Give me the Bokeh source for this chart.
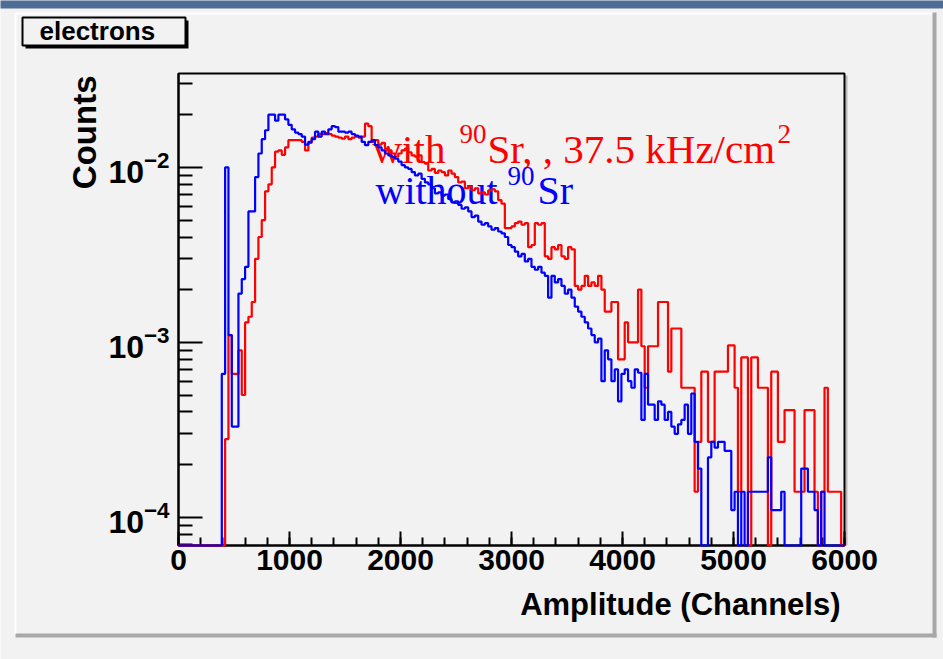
import math
import numpy as np
from bokeh.plotting import figure
from bokeh.models import Range1d, FixedTicker, SingleIntervalTicker, Label, BoxAnnotation
from bokeh.embed import file_html
from bokeh.resources import INLINE

# ---------------- data ----------------
x_min, x_max = 0, 6000
bin_width = 30           # channels per bin
first_bin = 13           # index of first listed bin (bin edge 390)
n_bins = 200
y_min, y_max = 6.9e-5, 3.44e-2
x_ticks = [0, 1000, 2000, 3000, 4000, 5000, 6000]
y_ticks = [1e-4, 1e-3, 1e-2]

# "without 90Sr" (blue), bins 13..199, normalised counts
blue = [
    6.6e-4, 1.0e-2, 1.1e-3, 3.3e-4, 3.3e-4, 1.9e-3, 2.3e-3, 2.7e-3, 5.6e-3, 5.6e-3,
    8.8e-3, 1.20e-2, 1.45e-2, 1.63e-2, 2.00e-2, 2.00e-2, 1.85e-2, 2.00e-2, 2.00e-2, 1.88e-2,
    1.75e-2, 1.65e-2, 1.58e-2, 1.55e-2, 1.50e-2, 1.35e-2, 1.40e-2, 1.45e-2, 1.60e-2, 1.50e-2,
    1.60e-2, 1.55e-2, 1.65e-2, 1.72e-2, 1.70e-2, 1.60e-2, 1.60e-2, 1.58e-2, 1.60e-2, 1.55e-2,
    1.52e-2, 1.50e-2, 1.40e-2, 1.34e-2, 1.40e-2, 1.43e-2, 1.34e-2, 1.30e-2, 1.25e-2, 1.20e-2,
    1.17e-2, 1.15e-2, 1.12e-2, 1.08e-2, 1.03e-2, 1.00e-2, 9.8e-3, 9.4e-3, 9.0e-3, 9.2e-3,
    8.6e-3, 8.2e-3, 8.0e-3, 7.6e-3, 7.1e-3, 7.2e-3, 6.9e-3, 7.0e-3, 6.6e-3, 6.3e-3,
    6.4e-3, 6.1e-3, 5.8e-3, 5.9e-3, 5.6e-3, 5.2e-3, 5.3e-3, 4.9e-3, 4.7e-3, 4.8e-3,
    4.6e-3, 4.4e-3, 4.5e-3, 4.3e-3, 4.2e-3, 4.0e-3, 3.6e-3, 3.5e-3, 3.3e-3, 3.1e-3,
    3.2e-3, 2.9e-3, 3.0e-3, 2.7e-3, 2.6e-3, 2.7e-3, 2.5e-3, 2.4e-3, 1.8e-3, 2.4e-3,
    2.2e-3, 2.3e-3, 2.1e-3, 1.9e-3, 2.0e-3, 1.8e-3, 1.6e-3, 1.5e-3, 1.4e-3, 1.3e-3,
    1.2e-3, 1.1e-3, 1.0e-3, 1.05e-3, 6.0e-4, 9.0e-4, 8.0e-4, 6.0e-4, 7.0e-4, 4.6e-4,
    6.6e-4, 7.0e-4, 6.0e-4, 5.5e-4, 7.0e-4, 6.7e-4, 3.6e-4, 6.6e-4, 4.4e-4, 4.4e-4,
    3.6e-4, 4.6e-4, 4.4e-4, 3.6e-4, 4.0e-4, 3.3e-4, 3.0e-4, 3.4e-4, 3.6e-4, 4.4e-4,
    3.0e-4, 5.1e-4, 2.7e-4, 1.9e-4, 0, 0, 2.2e-4, 2.7e-4, 2.5e-4, 2.7e-4,
    2.7e-4, 2.4e-4, 2.4e-4, 1.1e-4, 1.4e-4, 0, 1.4e-4, 0, 1.4e-4, 1.4e-4,
    1.4e-4, 1.4e-4, 1.4e-4, 1.4e-4, 2.2e-4, 1.1e-4, 1.1e-4, 1.1e-4, 1.4e-4, 0,
    0, 0, 0, 0, 1.9e-4, 1.9e-4, 1.4e-4, 1.4e-4, 1.1e-4, 0,
    1.4e-4, 0, 0, 0, 0, 0, 0,
]

# "with 90Sr, 37.5 kHz/cm2" (red), bins 13..199
red = [
    0, 2.8e-4, 1.1e-3, 6.6e-4, 6.6e-4, 9.0e-4, 5.0e-4, 1.3e-3, 1.4e-3, 1.7e-3,
    3.0e-3, 4.0e-3, 5.0e-3, 7.3e-3, 8.0e-3, 1.00e-2, 1.23e-2, 1.25e-2, 1.18e-2, 1.30e-2,
    1.43e-2, 1.43e-2, 1.43e-2, 1.43e-2, 1.40e-2, 1.25e-2, 1.38e-2, 1.48e-2, 1.50e-2, 1.55e-2,
    1.55e-2, 1.57e-2, 1.55e-2, 1.52e-2, 1.50e-2, 1.48e-2, 1.46e-2, 1.50e-2, 1.45e-2, 1.48e-2,
    1.50e-2, 1.48e-2, 1.50e-2, 1.78e-2, 1.72e-2, 1.40e-2, 1.43e-2, 1.35e-2, 1.38e-2, 1.28e-2,
    1.25e-2, 1.20e-2, 1.15e-2, 1.20e-2, 1.25e-2, 1.28e-2, 1.22e-2, 1.17e-2, 1.15e-2, 1.17e-2,
    1.07e-2, 1.05e-2, 9.6e-3, 9.8e-3, 9.3e-3, 9.6e-3, 9.4e-3, 9.0e-3, 9.6e-3, 9.2e-3,
    8.8e-3, 8.2e-3, 8.3e-3, 7.6e-3, 7.8e-3, 7.4e-3, 7.6e-3, 7.1e-3, 7.2e-3, 7.0e-3,
    7.4e-3, 7.5e-3, 7.3e-3, 6.5e-3, 6.2e-3, 4.5e-3, 4.5e-3, 4.6e-3, 4.8e-3, 4.9e-3,
    4.7e-3, 4.8e-3, 3.5e-3, 3.6e-3, 4.8e-3, 4.7e-3, 4.8e-3, 3.1e-3, 3.0e-3, 3.5e-3,
    3.4e-3, 3.6e-3, 3.1e-3, 3.0e-3, 3.5e-3, 3.4e-3, 2.1e-3, 2.0e-3, 2.1e-3, 2.4e-3,
    2.1e-3, 2.2e-3, 2.1e-3, 2.4e-3, 2.0e-3, 1.5e-3, 1.5e-3, 1.7e-3, 1.7e-3, 8.0e-4,
    8.0e-4, 1.3e-3, 1.0e-3, 1.0e-3, 1.0e-3, 2.0e-3, 9.5e-4, 5.5e-4, 9.5e-4, 9.5e-4,
    9.5e-4, 1.7e-3, 1.7e-3, 1.7e-3, 6.8e-4, 1.2e-3, 1.2e-3, 1.2e-3, 5.5e-4, 5.5e-4,
    5.5e-4, 5.5e-4, 1.4e-4, 2.7e-4, 6.8e-4, 6.8e-4, 2.7e-4, 2.7e-4, 6.8e-4, 6.8e-4,
    6.8e-4, 6.8e-4, 9.6e-4, 9.6e-4, 5.5e-4, 1.4e-4, 8.2e-4, 8.2e-4, 0, 8.2e-4,
    8.2e-4, 5.5e-4, 5.5e-4, 5.5e-4, 0, 6.8e-4, 6.8e-4, 2.7e-4, 2.7e-4, 4.1e-4,
    4.1e-4, 4.1e-4, 1.4e-4, 1.4e-4, 1.4e-4, 4.1e-4, 4.1e-4, 4.1e-4, 1.4e-4, 0,
    1.4e-4, 5.5e-4, 1.4e-4, 1.4e-4, 1.4e-4, 1.4e-4, 0,
]

title_text = "electrons"
x_title = "Amplitude (Channels)"
y_title = "Counts"

# ---------------- layout geometry (pixels on the 943x659 canvas) ----------------
W, H = 943, 659
FL, FR, FT, FB = 178, 844, 73, 545      # edges of the data frame
BG = "#f2f2f2"


def full(vals):
    arr = [0.0] * first_bin + list(vals)
    arr = (arr + [0.0] * n_bins)[:n_bins]
    arr = [v if v > 0 else y_min for v in arr]   # empty bins drawn on the bottom edge
    return np.array(arr + [arr[-1]])


edges = x_min + bin_width * np.arange(n_bins + 1)


def sx(px):
    return x_min + (px - FL) * (x_max - x_min) / (FR - FL)


def sy(py):
    lt, lb = math.log10(y_max), math.log10(y_min)
    return 10 ** (lt - (py - FT) * (lt - lb) / (FB - FT))


# the plotting area covers the whole canvas; the axes sit at fixed data locations
p = figure(width=W, height=H, output_backend="svg", toolbar_location=None, title=None,
           x_range=Range1d(sx(0), sx(W)), y_range=Range1d(sy(H), sy(0)),
           y_axis_type="log", min_border=0,
           min_border_left=0, min_border_right=0, min_border_top=0, min_border_bottom=0)
p.background_fill_color = BG
p.border_fill_color = BG
p.outline_line_color = None
p.xgrid.visible = False
p.ygrid.visible = False

# ---------------- slide / pad decorations ----------------
p.add_layout(BoxAnnotation(left=sx(-20), right=sx(W + 20), top=sy(-20), bottom=sy(8),
                           fill_color="#4d6d96", fill_alpha=1, line_alpha=0, level="underlay"))
p.segment(x0=[sx(15), sx(15)], y0=[sy(13), sy(13)], x1=[sx(933), sx(15)], y1=[sy(13), sy(634)],
          line_color="white", line_width=2, level="underlay")
p.segment(x0=[sx(934), sx(15)], y0=[sy(12), sy(635)], x1=[sx(934), sx(936)], y1=[sy(637), sy(635)],
          line_color="#a8a8a8", line_width=4, level="underlay")

# title box with shadow
p.add_layout(BoxAnnotation(left=sx(25), right=sx(188), top=sy(20), bottom=sy(48),
                           fill_color="black", fill_alpha=1, line_alpha=0))
p.add_layout(BoxAnnotation(left=sx(22), right=sx(185), top=sy(17), bottom=sy(45),
                           fill_color=BG, fill_alpha=1, line_color="black", line_alpha=1,
                           line_width=2))
p.add_layout(Label(x=sx(39), y=sy(30), text=title_text, text_font="Liberation Sans",
                   text_font_style="bold", text_font_size="26px", text_color="black",
                   text_baseline="middle"))

# frame of the histogram pad
p.add_layout(BoxAnnotation(left=x_min, right=x_max, bottom=y_min, top=y_max,
                           fill_color=BG, fill_alpha=1, line_color="black", line_alpha=1,
                           line_width=2, level="underlay"))
p.segment(x0=[sx(846)], y0=[sy(75)], x1=[sx(846)], y1=[sy(545)],
          line_color="#b8b8b8", line_width=2, level="underlay")

# ---------------- histograms ----------------
p.step(edges, full(red), mode="after", line_color="#ff0000", line_width=2.2, level="overlay")
p.step(edges, full(blue), mode="after", line_color="#0000ff", line_width=2.2, level="overlay")

# ---------------- axes ----------------
minor_y = [m * 10.0 ** e for e in (-5, -4, -3, -2) for m in range(2, 10)]
minor_y = [v for v in minor_y if y_min <= v <= y_max]
p.xaxis.fixed_location = y_min
p.xaxis.bounds = (x_min, x_max)
p.yaxis.fixed_location = x_min
p.yaxis.bounds = (y_min, y_max)
p.xaxis.ticker = SingleIntervalTicker(interval=1000, num_minor_ticks=5)
p.yaxis.ticker = FixedTicker(ticks=y_ticks, minor_ticks=minor_y)
for ax in (p.xaxis[0], p.yaxis[0]):
    ax.axis_line_width = 2
    ax.axis_line_color = "black"
    ax.major_tick_line_width = 2
    ax.minor_tick_line_width = 2
    ax.major_tick_out = 0
    ax.minor_tick_out = 0
    ax.major_label_text_font = "Liberation Sans"
    ax.major_label_text_font_style = "bold"
    ax.major_label_text_color = "black"
p.xaxis.major_label_text_font_size = "30px"
p.yaxis.major_label_text_font_size = "32px"
p.xaxis.major_tick_in = 14
p.xaxis.minor_tick_in = 8
p.yaxis.major_tick_in = 24
p.yaxis.minor_tick_in = 14
p.xaxis.major_label_standoff = 4
p.yaxis.major_label_standoff = 9

p.add_layout(Label(x=x_max, y=sy(604), x_offset=-4, text=x_title, text_align="right",
                   text_baseline="middle", text_font="Liberation Sans", text_font_style="bold",
                   text_font_size="31px", text_color="black"))
p.add_layout(Label(x=sx(84), y=y_max, y_offset=-2, text=y_title, angle=math.pi / 2,
                   text_align="right", text_baseline="middle", text_font="Liberation Sans",
                   text_font_style="bold", text_font_size="33px", text_color="black"))

# ---------------- legend-like texts ----------------
def put(text, px, py, size, color):
    p.add_layout(Label(x=sx(px), y=sy(py), text=text, text_font="Liberation Serif",
                       text_font_size=size, text_color=color, text_baseline="alphabetic"))


put("with", 372, 148, "41px", "#ff0000")
put("90", 459, 133, "27px", "#ff0000")
put("Sr, , 37.5 kHz/cm", 487, 148, "41px", "#ff0000")
put("2", 777, 133, "27px", "#ff0000")
put("without", 375, 190, "40px", "#0000ff")
put("90", 507, 175, "27px", "#0000ff")
put("Sr", 537, 190, "40px", "#0000ff")

open("out.html", "w").write(file_html(p, INLINE))
